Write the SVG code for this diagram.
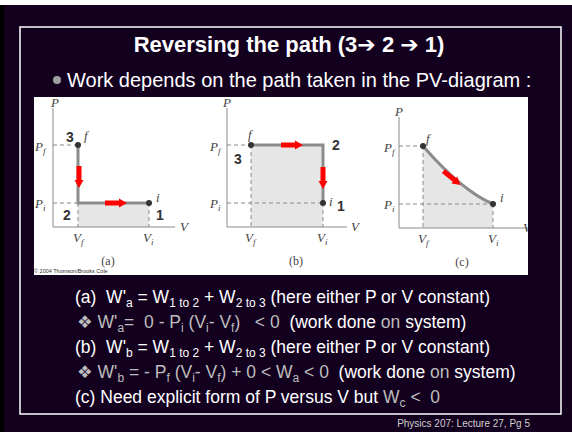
<svg xmlns="http://www.w3.org/2000/svg" width="572" height="432" viewBox="0 0 572 432">
<style>
.t{font-family:"Liberation Sans",Arial,"DejaVu Sans",sans-serif;fill:#ffffff;white-space:pre}
.g{fill:#bdbdbd}
.s{font-size:12px}
.ax{stroke:#8a8a8a;stroke-width:1;fill:none}
.ds{stroke:#8a8a8a;stroke-width:1;stroke-dasharray:4 3;fill:none}
.pa{stroke:#8c8c8c;stroke-width:3;fill:none}
.sh{fill:#e6e6e6}
.pt{fill:#333333}
.lb{font-family:"Liberation Serif","Times New Roman",serif;font-style:italic;font-size:13px;fill:#444444}
.sb{font-size:9px}
.cap{font-family:"Liberation Serif","Times New Roman",serif;font-size:12px;fill:#444444}
.nm{font-family:"Liberation Sans",Arial,sans-serif;font-weight:bold;font-size:14px;fill:#333333}
.ar{fill:#ff0000}
</style>
<defs>
<polygon id="arR" points="-11,-2.5 3,-2.5 3,-4.5 11,0 3,4.5 3,2.5 -11,2.5"/>
<clipPath id="img"><rect x="34" y="97" width="494" height="178"/></clipPath>
</defs>
<rect width="572" height="432" fill="#13001f"/>
<rect width="572" height="5" fill="#ffffff"/>
<rect x="0" y="5" width="4" height="427" fill="#000000"/>
<rect x="20" y="27" width="541" height="387" fill="none" stroke="#ffffff" stroke-width="1.5"/>

<text class="t" x="289" y="52" text-anchor="middle" font-size="22" font-weight="bold">Reversing the path (3➔ 2 ➔ 1)</text>
<circle cx="57" cy="80" r="4" fill="#a0a0a0"/>
<text class="t" x="67" y="87" font-size="20">Work depends on the path taken in the PV-diagram :</text>

<g id="figure" clip-path="url(#img)">
<rect x="34" y="97" width="494" height="178" fill="#ffffff"/>

<g id="graph-a">
<rect class="sh" x="78" y="203" width="71" height="24"/>
<path class="ds" d="M53,145 H78 M53,203 H78 M78,203 V227 M149,203 V227"/>
<path class="ax" d="M53,108 V227 H175"/>
<path class="pa" d="M78,145 V203 H149"/>
<circle class="pt" cx="78" cy="145" r="3"/>
<circle class="pt" cx="149" cy="203" r="3"/>
<use href="#arR" class="ar" transform="translate(79,177) rotate(90)"/>
<use href="#arR" class="ar" transform="translate(116,203)"/>
<text class="lb" x="51" y="107">P</text>
<text class="lb" x="180" y="231">V</text>
<text class="lb" x="35" y="151">P<tspan class="sb" dy="3">f</tspan></text>
<text class="lb" x="35" y="208">P<tspan class="sb" dy="3">i</tspan></text>
<text class="lb" x="73" y="242">V<tspan class="sb" dy="3">f</tspan></text>
<text class="lb" x="143" y="242">V<tspan class="sb" dy="3">i</tspan></text>
<text class="lb" x="84" y="140">f</text>
<text class="lb" x="156" y="202">i</text>
<text class="nm" x="66" y="142">3</text>
<text class="nm" x="63" y="220">2</text>
<text class="nm" x="156" y="220">1</text>
<text class="cap" x="108" y="265" text-anchor="middle">(a)</text>
</g>

<g id="graph-b">
<rect class="sh" x="251" y="145" width="72" height="82"/>
<path class="ds" d="M227,145 H251 M227,203 H323 M251,145 V227 M323,203 V227"/>
<path class="ax" d="M227,108 V227 H347"/>
<path class="pa" d="M251,145 H323 V203"/>
<circle class="pt" cx="251" cy="145" r="3"/>
<circle class="pt" cx="323" cy="203" r="3"/>
<use href="#arR" class="ar" transform="translate(292,145)"/>
<use href="#arR" class="ar" transform="translate(323,178) rotate(90)"/>
<text class="lb" x="223" y="107">P</text>
<text class="lb" x="351" y="231">V</text>
<text class="lb" x="210" y="151">P<tspan class="sb" dy="3">f</tspan></text>
<text class="lb" x="210" y="208">P<tspan class="sb" dy="3">i</tspan></text>
<text class="lb" x="245" y="242">V<tspan class="sb" dy="3">f</tspan></text>
<text class="lb" x="317" y="242">V<tspan class="sb" dy="3">i</tspan></text>
<text class="lb" x="248" y="139">f</text>
<text class="lb" x="329" y="206">i</text>
<text class="nm" x="234" y="164">3</text>
<text class="nm" x="332" y="150">2</text>
<text class="nm" x="337" y="211">1</text>
<text class="cap" x="296" y="265" text-anchor="middle">(b)</text>
</g>

<g id="graph-c">
<path class="sh" d="M423,146 Q462,191 493,204 V228 H423 Z"/>
<path class="ds" d="M399,146 H423 M399,204 H493 M423,146 V228 M493,204 V228"/>
<path class="ax" d="M399,117 V228 H528"/>
<path class="pa" d="M423,146 Q462,191 493,204"/>
<circle class="pt" cx="423" cy="146" r="3"/>
<circle class="pt" cx="493" cy="204" r="3"/>
<use href="#arR" class="ar" transform="translate(452,178) rotate(39)"/>
<text class="lb" x="395" y="116">P</text>
<text class="lb" x="523" y="232">V</text>
<text class="lb" x="384" y="152">P<tspan class="sb" dy="3">f</tspan></text>
<text class="lb" x="384" y="209">P<tspan class="sb" dy="3">i</tspan></text>
<text class="lb" x="418" y="243">V<tspan class="sb" dy="3">f</tspan></text>
<text class="lb" x="488" y="243">V<tspan class="sb" dy="3">i</tspan></text>
<text class="lb" x="426" y="143">f</text>
<text class="lb" x="500" y="202">i</text>
<text class="cap" x="462" y="266" text-anchor="middle">(c)</text>
</g>
<text x="34" y="273" font-family="Liberation Sans,Arial,sans-serif" font-size="5.5" fill="#333333">© 2004 Thomson/Brooks Cole</text>
</g>

<g id="notes" font-size="17.5">
<text class="t" x="75" y="303">(a)  W'<tspan class="s" dy="4">a</tspan><tspan dy="-4"> = W</tspan><tspan class="s" dy="4">1 to 2</tspan><tspan dy="-4"> + W</tspan><tspan class="s" dy="4">2 to 3</tspan><tspan dy="-4"> (here either P or V constant)</tspan></text>
<text class="t" x="77" y="328"><tspan class="g">❖ W'</tspan><tspan class="g s" dy="4">a</tspan><tspan class="g" dy="-4">=  0 - P</tspan><tspan class="g s" dy="4">i</tspan><tspan class="g" dy="-4"> (V</tspan><tspan class="g s" dy="4">i</tspan><tspan class="g" dy="-4">- V</tspan><tspan class="g s" dy="4">f</tspan><tspan class="g" dy="-4">)   &lt; 0  </tspan>(work done <tspan class="g">on</tspan> system)</text>
<text class="t" x="75" y="353">(b)  W'<tspan class="s" dy="4">b</tspan><tspan dy="-4"> = W</tspan><tspan class="s" dy="4">1 to 2</tspan><tspan dy="-4"> + W</tspan><tspan class="s" dy="4">2 to 3</tspan><tspan dy="-4"> (here either P or V constant)</tspan></text>
<text class="t" x="77" y="378"><tspan class="g">❖ W'</tspan><tspan class="g s" dy="4">b</tspan><tspan class="g" dy="-4"> = - P</tspan><tspan class="g s" dy="4">f</tspan><tspan class="g" dy="-4"> (V</tspan><tspan class="g s" dy="4">i</tspan><tspan class="g" dy="-4">- V</tspan><tspan class="g s" dy="4">f</tspan><tspan class="g" dy="-4">) + 0 &lt; W</tspan><tspan class="g s" dy="4">a</tspan><tspan class="g" dy="-4"> &lt; 0  </tspan>(work done <tspan class="g">on</tspan> system)</text>
<text class="t" x="75" y="403">(c) Need explicit form of P versus V but <tspan class="g">W</tspan><tspan class="g s" dy="4">c</tspan><tspan class="g" dy="-4"> &lt;  0</tspan></text>
</g>
<text class="t" x="530" y="427" text-anchor="end" font-size="10" style="fill:#d0d0d0">Physics 207: Lecture 27, Pg 5</text>
</svg>
